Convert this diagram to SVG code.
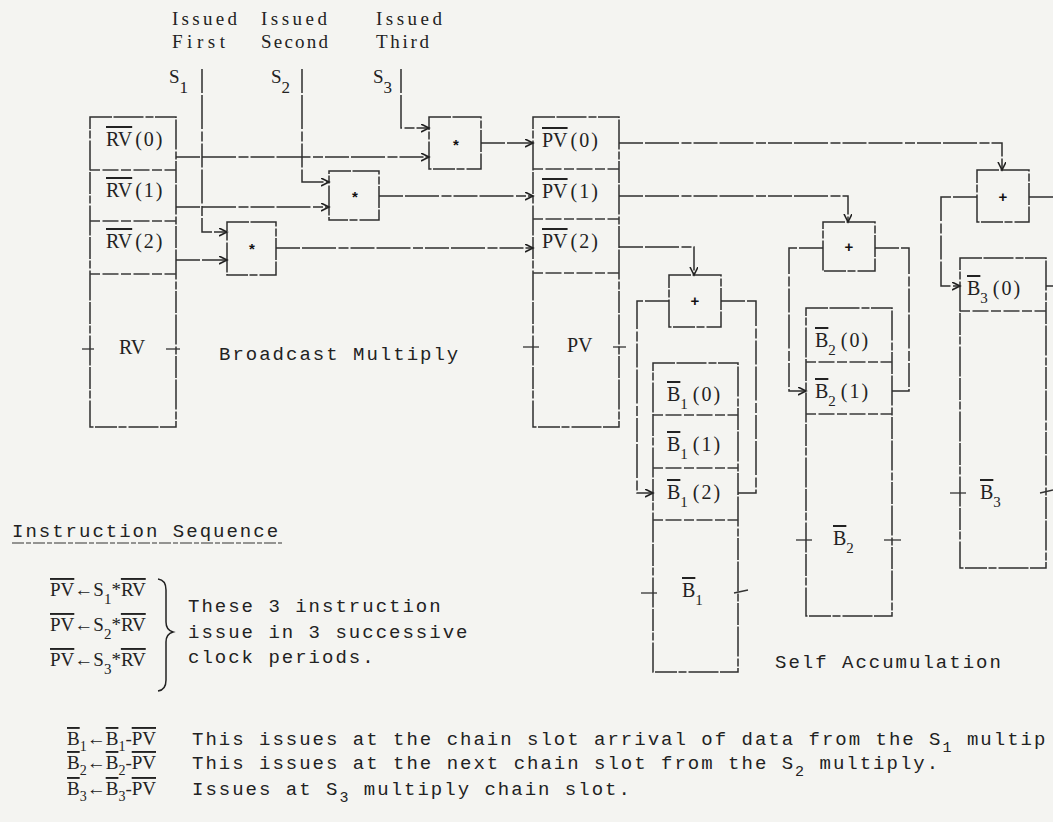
<svg xmlns="http://www.w3.org/2000/svg" width="1053" height="822" viewBox="0 0 1053 822">
<style>
.bg{fill:#f4f4f1}
.box{fill:none;stroke:#2e2e2e;stroke-width:1.5;stroke-dasharray:22 1.5 30 2 8 1.5}
.sep{stroke:#3a3a3a;stroke-width:1.3;stroke-dasharray:10 2.5 16 2.5}
.ln{fill:none;stroke:#2e2e2e;stroke-width:1.5;stroke-dasharray:24 2 34 2.5 10 2}
.tick{stroke:#333;stroke-width:1.3}
.lbl{font-family:"Liberation Serif",serif;font-size:20px;fill:#222}
.ser{font-family:"Liberation Serif",serif;font-size:19px;fill:#222}
.mono{font-family:"Liberation Mono",monospace;font-size:19px;letter-spacing:2px;fill:#222}
.op{font-family:"Liberation Sans",sans-serif;font-size:15px;font-weight:bold;fill:#111;text-anchor:middle}
.ov{text-decoration:overline}
.sub{font-size:15px}
</style>
<defs>
<marker id="ah" markerWidth="10" markerHeight="10" refX="8" refY="4" orient="auto" markerUnits="userSpaceOnUse">
<path d="M0,0 L8,4 L0,8" fill="none" stroke="#222" stroke-width="1.6"/>
</marker>
</defs>
<rect class="bg" width="1053" height="822"/>

<g id="labels-top">
<text class="ser" x="172" y="25" textLength="65">Issued</text>
<text class="ser" x="172" y="48" textLength="53">First</text>
<text class="ser" x="261" y="25" textLength="66">Issued</text>
<text class="ser" x="261" y="48" textLength="67">Second</text>
<text class="ser" x="376" y="25" textLength="66">Issued</text>
<text class="ser" x="376" y="48" textLength="53">Third</text>
<text class="ser" x="169" y="83" font-size="21">S<tspan dy="10" font-size="17">1</tspan></text>
<text class="ser" x="271" y="83" font-size="21">S<tspan dy="10" font-size="17">2</tspan></text>
<text class="ser" x="373" y="83" font-size="21">S<tspan dy="10" font-size="17">3</tspan></text>
</g>

<g id="RV">
<rect class="box" x="90" y="117" width="86" height="310"/>
<line class="sep" x1="90" y1="170" x2="176" y2="170"/>
<line class="sep" x1="90" y1="221" x2="176" y2="221"/>
<line class="sep" x1="90" y1="274" x2="176" y2="274"/>
<text class="lbl" x="106" y="146"><tspan class="ov">RV</tspan><tspan dx="3" letter-spacing="2">(0)</tspan></text>
<text class="lbl" x="106" y="197"><tspan class="ov">RV</tspan><tspan dx="3" letter-spacing="2">(1)</tspan></text>
<text class="lbl" x="106" y="248"><tspan class="ov">RV</tspan><tspan dx="3" letter-spacing="2">(2)</tspan></text>
<text class="lbl" x="119" y="354">RV</text>
<line class="tick" x1="82" y1="349" x2="94" y2="349"/>
<line class="tick" x1="166" y1="349" x2="180" y2="349"/>
</g>

<g id="mul1"><rect class="box" x="227" y="222" width="49" height="53"/><text class="op" x="252" y="254">*</text></g>
<g id="mul2"><rect class="box" x="329" y="171" width="50" height="49"/><text class="op" x="355" y="202">*</text></g>
<g id="mul3"><rect class="box" x="429" y="117" width="52" height="52"/><text class="op" x="456" y="150">*</text></g>

<text class="mono" x="219" y="360" letter-spacing="2.6">Broadcast  Multiply</text>

<g id="PV">
<rect class="box" x="533" y="117" width="86" height="310"/>
<line class="sep" x1="533" y1="169" x2="619" y2="169"/>
<line class="sep" x1="533" y1="219" x2="619" y2="219"/>
<line class="sep" x1="533" y1="273" x2="619" y2="273"/>
<text class="lbl" x="542" y="147"><tspan class="ov">PV</tspan><tspan dx="3" letter-spacing="2">(0)</tspan></text>
<text class="lbl" x="542" y="198"><tspan class="ov">PV</tspan><tspan dx="3" letter-spacing="2">(1)</tspan></text>
<text class="lbl" x="542" y="248"><tspan class="ov">PV</tspan><tspan dx="3" letter-spacing="2">(2)</tspan></text>
<text class="lbl" x="567" y="352">PV</text>
<line class="tick" x1="523" y1="347" x2="539" y2="347"/>
<line class="tick" x1="613" y1="347" x2="626" y2="347"/>
</g>

<g id="add1"><rect class="box" x="669" y="275" width="52" height="52"/><text class="op" x="695" y="306">+</text></g>
<g id="add2"><rect class="box" x="823" y="222" width="52" height="49"/><text class="op" x="849" y="252">+</text></g>
<g id="add3"><rect class="box" x="977" y="170" width="52" height="52"/><text class="op" x="1003" y="202">+</text></g>

<g id="B1">
<rect class="box" x="653" y="363" width="85" height="309"/>
<line class="sep" x1="653" y1="415" x2="738" y2="415"/>
<line class="sep" x1="653" y1="468" x2="738" y2="468"/>
<line class="sep" x1="653" y1="520" x2="738" y2="520"/>
<text class="lbl" x="667" y="401"><tspan class="ov">B</tspan><tspan dy="8" class="sub">1</tspan><tspan dy="-8" dx="5" letter-spacing="2">(0)</tspan></text>
<text class="lbl" x="667" y="451"><tspan class="ov">B</tspan><tspan dy="8" class="sub">1</tspan><tspan dy="-8" dx="5" letter-spacing="2">(1)</tspan></text>
<text class="lbl" x="667" y="499"><tspan class="ov">B</tspan><tspan dy="8" class="sub">1</tspan><tspan dy="-8" dx="5" letter-spacing="2">(2)</tspan></text>
<text class="lbl" x="682" y="597"><tspan class="ov">B</tspan><tspan dy="8" class="sub">1</tspan></text>
<line class="tick" x1="641" y1="593" x2="657" y2="593"/>
<line class="tick" x1="734" y1="593" x2="748" y2="590"/>
</g>

<g id="B2">
<rect class="box" x="806" y="308" width="86" height="308"/>
<line class="sep" x1="806" y1="362" x2="892" y2="362"/>
<line class="sep" x1="806" y1="414" x2="892" y2="414"/>
<text class="lbl" x="815" y="347"><tspan class="ov">B</tspan><tspan dy="8" class="sub">2</tspan><tspan dy="-8" dx="5" letter-spacing="2">(0)</tspan></text>
<text class="lbl" x="815" y="398"><tspan class="ov">B</tspan><tspan dy="8" class="sub">2</tspan><tspan dy="-8" dx="5" letter-spacing="2">(1)</tspan></text>
<text class="lbl" x="833" y="545"><tspan class="ov">B</tspan><tspan dy="8" class="sub">2</tspan></text>
<line class="tick" x1="796" y1="540" x2="812" y2="540"/>
<line class="tick" x1="884" y1="540" x2="901" y2="540"/>
</g>

<g id="B3">
<rect class="box" x="960" y="258" width="86" height="310"/>
<line class="sep" x1="960" y1="311" x2="1046" y2="311"/>
<text class="lbl" x="967" y="295"><tspan class="ov">B</tspan><tspan dy="8" class="sub">3</tspan><tspan dy="-8" dx="5" letter-spacing="2">(0)</tspan></text>
<text class="lbl" x="980" y="499"><tspan class="ov">B</tspan><tspan dy="8" class="sub">3</tspan></text>
<line class="tick" x1="950" y1="493" x2="966" y2="493"/>
<line class="tick" x1="1040" y1="493" x2="1053" y2="490"/>
</g>

<text class="mono" x="775" y="668">Self Accumulation</text>

<g id="connectors">
<path class="ln" d="M202,69 V232 H227" marker-end="url(#ah)"/>
<path class="ln" d="M302,69 V182 H329" marker-end="url(#ah)"/>
<path class="ln" d="M401,69 V128 H429" marker-end="url(#ah)"/>
<path class="ln" d="M176,157 H429" marker-end="url(#ah)"/>
<path class="ln" d="M176,207 H329" marker-end="url(#ah)"/>
<path class="ln" d="M176,260 H227" marker-end="url(#ah)"/>
<path class="ln" d="M481,143 H533" marker-end="url(#ah)"/>
<path class="ln" d="M379,196 H533" marker-end="url(#ah)"/>
<path class="ln" d="M276,248 H533" marker-end="url(#ah)"/>
<path class="ln" d="M619,143 H1002 V170" marker-end="url(#ah)"/>
<path class="ln" d="M619,196 H848 V222" marker-end="url(#ah)"/>
<path class="ln" d="M619,247 H694 V275" marker-end="url(#ah)"/>
<path class="ln" d="M669,301 H637 V493 H653" marker-end="url(#ah)"/>
<path class="ln" d="M721,301 H756 V493 H738"/>
<path class="ln" d="M823,248 H789 V391 H806" marker-end="url(#ah)"/>
<path class="ln" d="M875,248 H909 V391 H892"/>
<path class="ln" d="M977,197 H941 V286 H960" marker-end="url(#ah)"/>
<path class="ln" d="M1029,197 H1053"/>
<path class="ln" d="M1046,286 H1053"/>
</g>

<g id="sequence">
<text class="mono" x="12" y="537">Instruction Sequence</text>
<line x1="12" y1="543" x2="282" y2="543" stroke="#333" stroke-width="1.2" stroke-dasharray="12 2 5 2"/>
<text class="ser" x="50" y="596"><tspan class="ov">PV</tspan>←S<tspan dy="8" class="sub">1</tspan><tspan dy="-8">*</tspan><tspan class="ov">RV</tspan></text>
<text class="ser" x="50" y="631"><tspan class="ov">PV</tspan>←S<tspan dy="8" class="sub">2</tspan><tspan dy="-8">*</tspan><tspan class="ov">RV</tspan></text>
<text class="ser" x="50" y="666"><tspan class="ov">PV</tspan>←S<tspan dy="8" class="sub">3</tspan><tspan dy="-8">*</tspan><tspan class="ov">RV</tspan></text>
<path d="M158,579 Q166,580 166,590 L166,622 Q166,630 173,632 Q166,634 166,642 L166,680 Q166,690 158,691" fill="none" stroke="#222" stroke-width="1.5"/>
<text class="mono" x="188" y="612">These 3 instruction</text>
<text class="mono" x="188" y="638">issue in 3 successive</text>
<text class="mono" x="188" y="663">clock periods.</text>
</g>

<g id="notes">
<text class="ser" x="67" y="745" font-size="18"><tspan class="ov">B</tspan><tspan dy="6" font-size="14">1</tspan><tspan dy="-6">←</tspan><tspan class="ov">B</tspan><tspan dy="6" font-size="14">1</tspan><tspan dy="-6">-</tspan><tspan class="ov">PV</tspan></text>
<text class="mono" x="192" y="745" letter-spacing="1.8">This issues at the chain slot arrival of  data from the S<tspan dy="7" font-size="15">1</tspan><tspan dy="-7"> multip</tspan></text>
<text class="ser" x="67" y="769" font-size="18"><tspan class="ov">B</tspan><tspan dy="6" font-size="14">2</tspan><tspan dy="-6">←</tspan><tspan class="ov">B</tspan><tspan dy="6" font-size="14">2</tspan><tspan dy="-6">-</tspan><tspan class="ov">PV</tspan></text>
<text class="mono" x="192" y="769">This issues at the next chain slot from the S<tspan dy="7" font-size="15">2</tspan><tspan dy="-7"> multiply.</tspan></text>
<text class="ser" x="67" y="795" font-size="18"><tspan class="ov">B</tspan><tspan dy="6" font-size="14">3</tspan><tspan dy="-6">←</tspan><tspan class="ov">B</tspan><tspan dy="6" font-size="14">3</tspan><tspan dy="-6">-</tspan><tspan class="ov">PV</tspan></text>
<text class="mono" x="192" y="795">Issues at S<tspan dy="7" font-size="15">3</tspan><tspan dy="-7"> multiply chain slot.</tspan></text>
</g>
</svg>
